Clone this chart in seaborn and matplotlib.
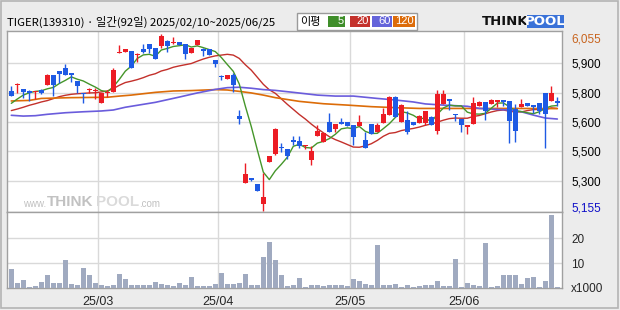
import numpy as np
import pandas as pd
import matplotlib
matplotlib.use("Agg")
import matplotlib.pyplot as plt
import seaborn as sns
from matplotlib.patches import Rectangle

sns.set_theme(style="white")
plt.rcParams['font.family'] = ['Noto Sans CJK KR', 'DejaVu Sans']

# ---------------- data ----------------
title = "TIGER(139310) · 일간(92일) 2025/02/10~2025/06/25"

opens = [5765, 5795, 5775, 5765, 5760, 5770, 5795, 5850, 5870, 5885,
         5860, 5815, 5755, 5770, 5765, 5705, 5755, 5760, 5960, 5965,
         5970, 5950, 5980, 6005, 5985, 5995, 6020, 6010, 6015, 6005,
         5960, 6000, 5980, 5980, 5925, 5840, 5825, 5845, 5640, 5295,
         5320, 5290, 5190, 5405, 5445, 5480, 5470, 5515, 5510, 5485,
         5415, 5535, 5505, 5610, 5570, 5605, 5610, 5590, 5585, 5515,
         5600, 5555, 5605, 5645, 5735, 5610, 5620, 5610, 5605, 5605,
         5635, 5560, 5700, 5725, 5650, 5625, 5580, 5600, 5690, 5710,
         5700, 5710, 5720, 5715, 5675, 5685, 5705, 5695, 5705, 5755,
         5715, 5715]
highs = [5790, 5805, 5775, 5770, 5765, 5775, 5855, 5850, 5870, 5905,
         5860, 5815, 5755, 5780, 5780, 5755, 5770, 5885, 6000, 5980,
         5970, 5960, 6005, 6005, 5985, 6055, 6025, 6040, 6015, 6005,
         5985, 6025, 5985, 5980, 5925, 5845, 5845, 5860, 5670, 5400,
         5320, 5290, 5350, 5435, 5575, 5500, 5470, 5535, 5535, 5490,
         5485, 5590, 5550, 5655, 5600, 5630, 5610, 5590, 5645, 5555,
         5600, 5605, 5680, 5740, 5740, 5700, 5665, 5610, 5645, 5665,
         5640, 5770, 5770, 5725, 5650, 5625, 5590, 5735, 5715, 5710,
         5725, 5720, 5720, 5715, 5700, 5725, 5705, 5695, 5705, 5755,
         5790, 5735]
lows = [5740, 5755, 5730, 5715, 5725, 5750, 5795, 5740, 5805, 5845,
        5810, 5755, 5705, 5755, 5725, 5705, 5735, 5760, 5960, 5965,
        5885, 5915, 5960, 5960, 5930, 5985, 5965, 6005, 6000, 5930,
        5960, 6000, 5945, 5950, 5890, 5820, 5825, 5760, 5600, 5295,
        5305, 5255, 5155, 5405, 5440, 5455, 5420, 5490, 5475, 5470,
        5390, 5535, 5505, 5555, 5555, 5600, 5585, 5490, 5585, 5475,
        5545, 5555, 5605, 5645, 5635, 5610, 5545, 5590, 5605, 5590,
        5590, 5545, 5700, 5670, 5615, 5555, 5545, 5600, 5690, 5620,
        5700, 5685, 5690, 5500, 5505, 5685, 5690, 5655, 5650, 5475,
        5715, 5690]
closes = [5740, 5800, 5760, 5755, 5765, 5755, 5850, 5795, 5855, 5845,
          5845, 5790, 5750, 5775, 5770, 5755, 5760, 5875, 5965, 5980,
          5885, 5955, 5965, 5980, 5930, 6045, 5995, 6015, 6000, 5955,
          5985, 6025, 5970, 5950, 5905, 5835, 5845, 5795, 5625, 5345,
          5310, 5255, 5225, 5435, 5570, 5475, 5435, 5505, 5485, 5490,
          5460, 5560, 5550, 5555, 5600, 5600, 5585, 5530, 5610, 5475,
          5545, 5590, 5650, 5735, 5635, 5695, 5555, 5590, 5640, 5665,
          5590, 5750, 5750, 5715, 5645, 5590, 5590, 5705, 5710, 5665,
          5720, 5720, 5710, 5615, 5560, 5700, 5690, 5685, 5665, 5650,
          5755, 5705]
volumes = [7.7, 2.1, 3.3, 0.5, 0.9, 2.5, 5.3, 2.1, 2.1, 11.3,
           1.7, 1.3, 8.1, 5.3, 2.1, 1.3, 0.9, 1.3, 5.7, 3.7,
           1.3, 1.3, 1.3, 1.3, 2.5, 1.7, 1.3, 0.9, 2.1, 1.3,
           4.5, 0.9, 0.9, 0.9, 1.7, 6.1, 1.7, 1.7, 2.1, 5.7,
           1.3, 1.3, 12.5, 18.5, 11.3, 5.3, 0.9, 1.3, 4.1, 0.5,
           1.3, 1.3, 0.9, 1.3, 1.3, 1.3, 0.9, 3.7, 2.9, 1.7,
           1.3, 17.3, 1.3, 1.3, 1.7, 0.5, 1.3, 0.5, 0.9, 1.3,
           1.3, 2.9, 0.9, 0.9, 11.7, 0.5, 2.1, 1.3, 0.9, 18.1,
           0.5, 0.9, 5.3, 5.3, 5.3, 1.7, 4.1, 4.5, 0.5, 2.9,
           29.3, 0.5]

ma5 = [5703, 5725, 5745, 5757, 5764, 5767, 5777, 5784, 5804, 5820,
       5838, 5826, 5817, 5801, 5786, 5768, 5762, 5787, 5825, 5867,
       5893, 5932, 5950, 5953, 5943, 5975, 5983, 5993, 5997, 6002,
       5990, 5996, 5987, 5977, 5967, 5937, 5901, 5866, 5801, 5689,
       5584, 5466, 5352, 5314, 5359, 5392, 5428, 5484, 5494, 5478,
       5475, 5500, 5509, 5523, 5545, 5573, 5578, 5574, 5585, 5560,
       5549, 5550, 5574, 5599, 5631, 5661, 5654, 5642, 5623, 5629,
       5608, 5647, 5679, 5694, 5690, 5690, 5658, 5649, 5648, 5652,
       5678, 5704, 5705, 5686, 5665, 5661, 5655, 5650, 5660, 5678,
       5689, 5692]
ma20 = [5666, 5674, 5683, 5693, 5701, 5710, 5717, 5727, 5737, 5744,
        5749, 5752, 5754, 5756, 5757, 5761, 5766, 5778, 5795, 5809,
        5816, 5824, 5834, 5846, 5854, 5868, 5876, 5887, 5894, 5900,
        5906, 5918, 5929, 5938, 5945, 5949, 5953, 5949, 5932, 5900,
        5872, 5836, 5800, 5772, 5754, 5726, 5698, 5672, 5646, 5623,
        5597, 5574, 5553, 5533, 5518, 5506, 5493, 5480, 5479, 5486,
        5497, 5514, 5535, 5550, 5554, 5564, 5570, 5575, 5582, 5591,
        5598, 5607, 5617, 5625, 5628, 5627, 5627, 5636, 5641, 5650,
        5659, 5666, 5669, 5663, 5659, 5659, 5666, 5671, 5672, 5671,
        5680, 5677]
ma60_idx = [0, 2, 4, 6, 9, 12, 15, 17, 19, 21, 24, 28, 31, 34, 36, 38, 40, 42,
            44, 47, 51, 54, 57, 61, 64, 67, 69, 72, 76, 78, 81, 83, 85, 87, 89, 91]
ma60 = [5642, 5638, 5640, 5647, 5655, 5660, 5664, 5669, 5683, 5693, 5708, 5735,
        5756, 5774, 5783, 5785, 5780, 5773, 5769, 5759, 5745, 5740, 5740, 5728,
        5720, 5710, 5700, 5694, 5688, 5677, 5672, 5669, 5660, 5643, 5628, 5623]
ma120_idx = [0, 3, 5, 10, 16, 18, 20, 22, 24, 27, 30, 34, 36, 38, 40, 42, 44,
             48, 52, 56, 60, 64, 68, 76, 84, 91]
ma120 = [5715, 5718, 5728, 5732, 5734, 5740, 5745, 5752, 5759, 5766, 5768, 5773,
         5771, 5764, 5756, 5745, 5732, 5713, 5701, 5694, 5686, 5681, 5677, 5677,
         5677, 5676]

month_pos = [14.5, 34.5, 56.5, 75.5]
month_labels = ["25/03", "25/04", "25/05", "25/06"]
price_ticks = [5908, 5758, 5608, 5458, 5308]
price_labels = ["5,900", "5,800", "5,600", "5,500", "5,300"]
max_label, max_pos = "6,055", 6034
min_label, min_pos = "5,155", 5176
vol_ticks = [0, 10, 20]
vol_labels = ["x1000", "10", "20"]
legend_name = "이평"
legend_periods = ["5", "20", "60", "120"]

# ---------------- style ----------------
W, H = 620, 310
BG = "#ececec"
RED = "#ec1c24"
BLUE = "#1e5ae4"
VOLC = "#a0aac0"
GRID = "#d9d9d9"
FRAME = "#a0a0a0"
MA_COLORS = ["#45962a", "#c3302b", "#6a5cdc", "#dc6c08"]
LEG_COLORS = ["#3f8e2a", "#c4322c", "#6464da", "#dc6c0a"]
TICKFONT = "Liberation Sans"

fig = plt.figure(figsize=(W / 100, H / 100), dpi=100, facecolor=BG)


def fbox(x, y, w, h):
    return [x / W, 1 - (y + h) / H, w / W, h / H]


def frect(x, y, w, h, **kw):
    r = Rectangle((x / W, 1 - (y + h) / H), w / W, h / H,
                  transform=fig.transFigure, **kw)
    fig.add_artist(r)
    return r


def ftext(x, y, s, **kw):
    return fig.text(x / W, 1 - y / H, s, **kw)


# outer frame
frect(0.5, 0.5, 617, 307, fill=False, edgecolor="#b4b4b4", lw=1.2)

ax = fig.add_axes(fbox(7, 31, 555, 181))
axv = fig.add_axes(fbox(7, 212, 555, 76))
for a in (ax, axv):
    a.set_facecolor("white")
    for s in a.spines.values():
        s.set_color(FRAME)
        s.set_linewidth(1.0)

idx = np.arange(len(closes))
o = np.array(opens, float)
c = np.array(closes, float)
hi = np.array(highs, float)
lo = np.array(lows, float)
col = np.where(c >= o, RED, BLUE)

# grid
for p in price_ticks:
    ax.axhline(p, color=GRID, lw=1.0, zorder=0)
for m in month_pos:
    ax.axvline(m, color=GRID, lw=1.0, zorder=0)
    axv.axvline(m, color=GRID, lw=1.0, zorder=0)
for v in vol_ticks[1:]:
    axv.axhline(v, color=GRID, lw=1.0, zorder=0)

# watermark (www.THINKPOOL.com)
ftext(23, 204, "www.", fontsize=7, color="#c0c0c0", va="center",
      family="Liberation Sans")
ftext(47, 202.5, "THINK", fontsize=11, color="#c2c2c2", va="center",
      weight="bold", family="Liberation Sans")
ftext(96, 202.5, "POOL", fontsize=11, color="#dadada", va="center",
      weight="bold", family="Liberation Sans")
ftext(139, 204, ".com", fontsize=7, color="#c0c0c0", va="center",
      family="Liberation Sans")

# moving averages
ma_df = pd.DataFrame({"i": idx, "ma5": ma5, "ma20": ma20})
sns.lineplot(data=ma_df, x="i", y="ma20", ax=ax, color=MA_COLORS[1], lw=1.0, zorder=2)
sns.lineplot(x=ma120_idx, y=ma120, ax=ax, color=MA_COLORS[3], lw=1.2, zorder=2)
sns.lineplot(x=ma60_idx, y=ma60, ax=ax, color=MA_COLORS[2], lw=1.2, zorder=2)
sns.lineplot(data=ma_df, x="i", y="ma5", ax=ax, color=MA_COLORS[0], lw=1.0, zorder=2)

# candles
ax.vlines(idx, lo, hi, colors=col, lw=1.0, zorder=3)
body_lo = np.minimum(o, c)
body_h = np.maximum(np.abs(c - o), 6)
ax.bar(idx, body_h, bottom=body_lo, width=0.76, color=col, linewidth=0, zorder=4)

ax.set_xlim(-0.717, 91.78)
ax.set_ylim(5148.8, 6071.9)
ax.set_xlabel("")
ax.set_ylabel("")
ax.set_xticks([])
ax.yaxis.tick_right()
ax.set_yticks(price_ticks + [max_pos, min_pos])
ax.set_yticklabels(price_labels + [max_label, min_label], family=TICKFONT)
ax.tick_params(axis="y", length=0, pad=6.5, labelsize=8.5, labelcolor="black")
ylabs = ax.get_yticklabels()
ylabs[-2].set_color("#c8641e")
ylabs[-1].set_color("#1010c8")

# volume
vol_df = pd.DataFrame({"i": idx, "v": volumes})
sns.barplot(data=vol_df, x="i", y="v", ax=axv, color=VOLC, saturation=1,
            width=0.82, linewidth=0, zorder=3)
axv.set_xlim(-0.717, 91.78)
axv.set_ylim(0, 30.4)
axv.set_xlabel("")
axv.set_ylabel("")
axv.set_xticks(month_pos)
axv.set_xticklabels(month_labels, family=TICKFONT)
axv.tick_params(axis="x", length=0, pad=6, labelsize=9)
axv.yaxis.tick_right()
axv.set_yticks(vol_ticks)
axv.set_yticklabels(vol_labels, family=TICKFONT)
axv.tick_params(axis="y", length=0, pad=6.5, labelsize=8.5)

# title
ftext(7, 22, title, fontsize=8.2, va="center", ha="left", color="black",
      family=["Noto Sans CJK KR", "DejaVu Sans"])

# legend box
frect(297, 12.7, 120, 17.3, facecolor="white", edgecolor="#9a9a9a", lw=1.0)
ftext(300, 21.5, legend_name, fontsize=8, va="center", ha="left", color="black",
      family=["Noto Sans CJK KR", "DejaVu Sans"])
boxes = [(328, 17), (350, 20), (372, 20), (393, 22)]
for (bx, bw), lab, lc in zip(boxes, legend_periods, LEG_COLORS):
    frect(bx, 15.7, bw, 11, facecolor=lc, edgecolor="none")
    ftext(bx + bw - 1.5, 21.5, lab, fontsize=8, va="center", ha="right",
          color="white", family=TICKFONT)

# logo
ftext(482, 21.5, "THINK", fontsize=9.5, va="center", ha="left", color="#111111",
      weight="bold", family="DejaVu Sans")
frect(527, 15, 37, 13, facecolor="#3a72d8", edgecolor="none")
ftext(545.5, 21.5, "POOL", fontsize=9.5, va="center", ha="center", color="white",
      weight="bold", family="DejaVu Sans")

fig.savefig("out.png", dpi=100, facecolor=BG)
